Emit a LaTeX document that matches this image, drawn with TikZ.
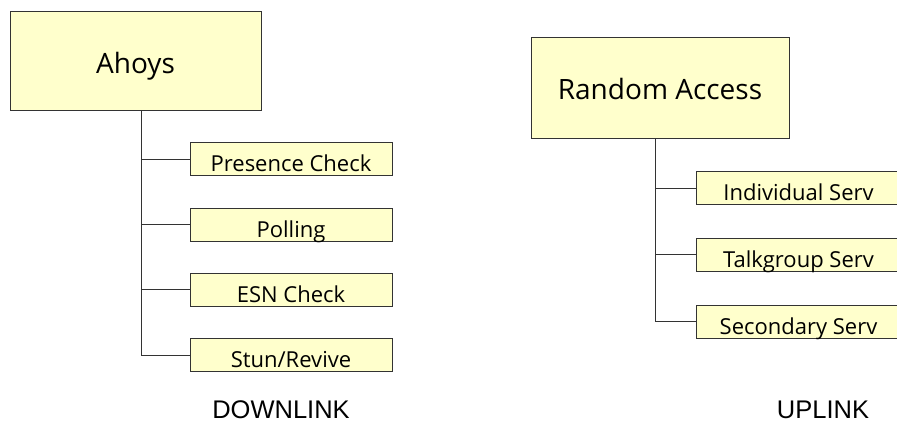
\documentclass[tikz,border=0pt]{standalone}
\usepackage{fontspec}
\setmainfont{Open Sans}
\newfontfamily\linkfont{Liberation Sans}
\definecolor{boxfill}{HTML}{FFFFCC}
\definecolor{boxline}{HTML}{333333}
\tikzset{
  rootbox/.style={draw=boxline, fill=boxfill, line width=0.9pt, inner sep=0pt,
    minimum width=#1, minimum height=99pt, text height=24pt, text depth=0pt,
    font=\fontsize{28}{32}\selectfont},
  leafbox/.style={draw=boxline, fill=boxfill, line width=0.9pt, inner sep=0pt,
    minimum width=#1, minimum height=33pt, text height=25pt, text depth=0pt,
    font=\fontsize{22}{26}\selectfont},
  linklabel/.style={font=\linkfont\fontsize{25.5}{30}\selectfont}
}
\begin{document}
\begin{tikzpicture}[x=1pt,y=-1pt]
      \useasboundingbox (0,0) rectangle (897,424);
      \draw
        (135.5,61) node[rootbox=251pt] (ahoys){Ahoys}
        (291,159) node[leafbox=202pt] (presence){Presence Check}
        (291,224.5) node[leafbox=202pt] (polling){Polling}
        (291,289.5) node[leafbox=202pt] (esn){ESN Check}
        (291,355) node[leafbox=202pt] (stun){Stun/Revive}
        (660,87.5) node[rootbox=258pt, minimum height=101pt] (random){Random Access}
        (798.5,188) node[leafbox=205pt] (indiv){Individual Serv}
        (798.5,254.5) node[leafbox=205pt] (talk){Talkgroup Serv}
        (798.5,321.5) node[leafbox=205pt] (second){Secondary Serv}
        (281,409.5) node[linklabel] (down){DOWNLINK}
        (823,409.5) node[linklabel] (up){UPLINK};
      \coordinate (dtrunk) at (141,110.5);
      \coordinate (utrunk) at (655,138);
      \begin{scope}[-, draw=boxline, line width=0.9pt]
        \draw (dtrunk) |- (stun.west);
        \draw (dtrunk |- presence.west) -- (presence.west);
        \draw (dtrunk |- polling.west) -- (polling.west);
        \draw (dtrunk |- esn.west) -- (esn.west);
        \draw (utrunk) |- (second.west);
        \draw (utrunk |- indiv.west) -- (indiv.west);
        \draw (utrunk |- talk.west) -- (talk.west);
      \end{scope}
    \end{tikzpicture}
\end{document}
